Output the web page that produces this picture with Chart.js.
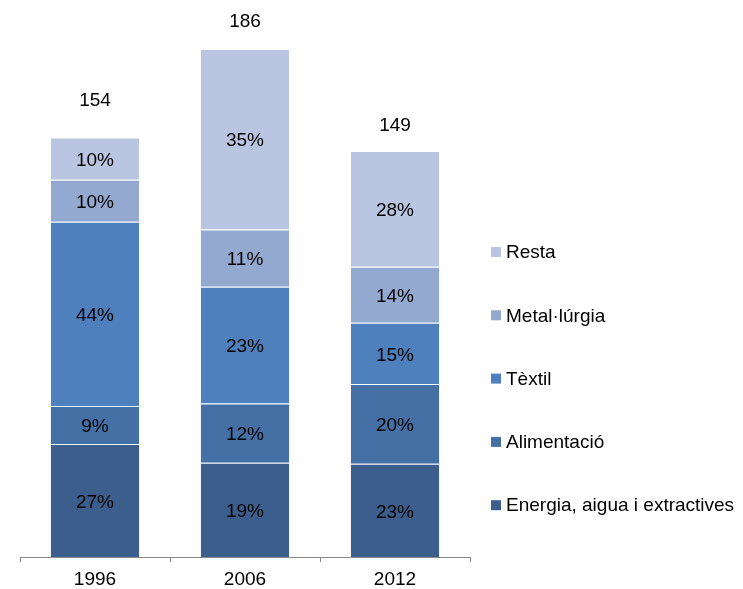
<!DOCTYPE html>
<html>
<head>
<meta charset="utf-8">
<script src="https://cdn.jsdelivr.net/npm/chart.js@4"></script>
<style>
  body { margin: 0; background: #fff; }
  #wrap { width: 743px; height: 589px; }
</style>
</head>
<body>
<div id="wrap"><canvas id="js--chart--1"></canvas></div>
<script>
const years = ['1996', '2006', '2012'];
const totals = [154, 186, 149];

// segment sizes
const energia = [41.4, 34.5, 34.2];
const alimentacio = [13.9, 21.7, 29.2];
const textil = [67.5, 42.8, 22.4];
const metallurgia = [15.4, 21.0, 20.5];
const resta = [15.5, 66.1, 42.4];

// percentage labels printed on the segments
const energiaPct = [27, 19, 23];
const alimentacioPct = [9, 12, 20];
const textilPct = [44, 23, 15];
const metallurgiaPct = [10, 11, 14];
const restaPct = [10, 35, 28];

const seriesNames = ['Energia, aigua i extractives', 'Alimentació', 'Tèxtil', 'Metal·lúrgia', 'Resta'];
const seriesValues = [energia, alimentacio, textil, metallurgia, resta];
const seriesPct = [energiaPct, alimentacioPct, textilPct, metallurgiaPct, restaPct];
const seriesColors = ['#3B5E8C', '#4470A6', '#4E80BD', '#94A9CF', '#BAC6E1'];

const FONT = '"Liberation Sans", Arial, sans-serif';

const data = {
    labels: years,
    datasets: seriesNames.map(function (name, s) {
        return {
            label: name,
            pct: seriesPct[s],
            data: seriesValues[s],
            backgroundColor: seriesColors[s],
            borderColor: 'rgba(255,255,255,0.4)',
            borderWidth: { top: 1, left: 0, right: 0, bottom: 0 },
            borderSkipped: false,
            barPercentage: 0.59,
            categoryPercentage: 1
        };
    })
};

const totalOffsets = [39, 29, 27];

const labelPlugin = {
    id: 'segLabels',
    afterDatasetsDraw(chart) {
        const ctx = chart.ctx;
        ctx.save();
        ctx.font = '19px ' + FONT;
        ctx.fillStyle = '#000';
        ctx.textAlign = 'center';
        ctx.textBaseline = 'middle';
        chart.data.datasets.forEach(function (ds, s) {
            chart.getDatasetMeta(s).data.forEach(function (bar, i) {
                ctx.fillText(ds.pct[i] + '%', bar.x, (bar.y + bar.base) / 2 + 2);
            });
        });
        const last = chart.getDatasetMeta(chart.data.datasets.length - 1).data;
        last.forEach(function (bar, i) {
            ctx.fillText(String(totals[i]), bar.x, bar.y - totalOffsets[i] + 2);
        });
        ctx.restore();
    }
};

const legendPlugin = {
    id: 'sideLegend',
    afterDraw(chart) {
        const ctx = chart.ctx;
        ctx.save();
        ctx.font = '19px ' + FONT;
        ctx.textBaseline = 'middle';
        ctx.textAlign = 'left';
        const n = chart.data.datasets.length;
        for (let k = 0; k < n; k++) {
            const ds = chart.data.datasets[n - 1 - k];
            const y = 252 + k * 63.3;
            ctx.fillStyle = ds.backgroundColor;
            ctx.fillRect(491, y - 5, 10, 10);
            ctx.fillStyle = '#000';
            ctx.fillText(ds.label, 506, y + 1);
        }
        ctx.restore();
    }
};

const config = {
    type: 'bar',
    data: data,
    options: {
        responsive: true,
        maintainAspectRatio: false,
        animation: false,
        devicePixelRatio: 1,
        layout: { padding: { left: 20, right: 273, top: 11, bottom: 0 } },
        plugins: { legend: { display: false }, tooltip: { enabled: false } },
        scales: {
            x: {
                stacked: true,
                grid: { display: true, drawOnChartArea: false, offset: true, color: '#8a8a8a', tickLength: 5 },
                border: { display: true, color: '#8a8a8a', width: 1 },
                ticks: { color: '#000', font: { size: 19, family: FONT }, padding: 6 },
                afterFit: function (scale) { scale.height = 32; }
            },
            y: {
                stacked: true,
                display: false,
                min: 0,
                max: 200
            }
        }
    },
    plugins: [labelPlugin, legendPlugin]
};

new Chart(document.getElementById('js--chart--1'), config);
</script>
</body>
</html>
